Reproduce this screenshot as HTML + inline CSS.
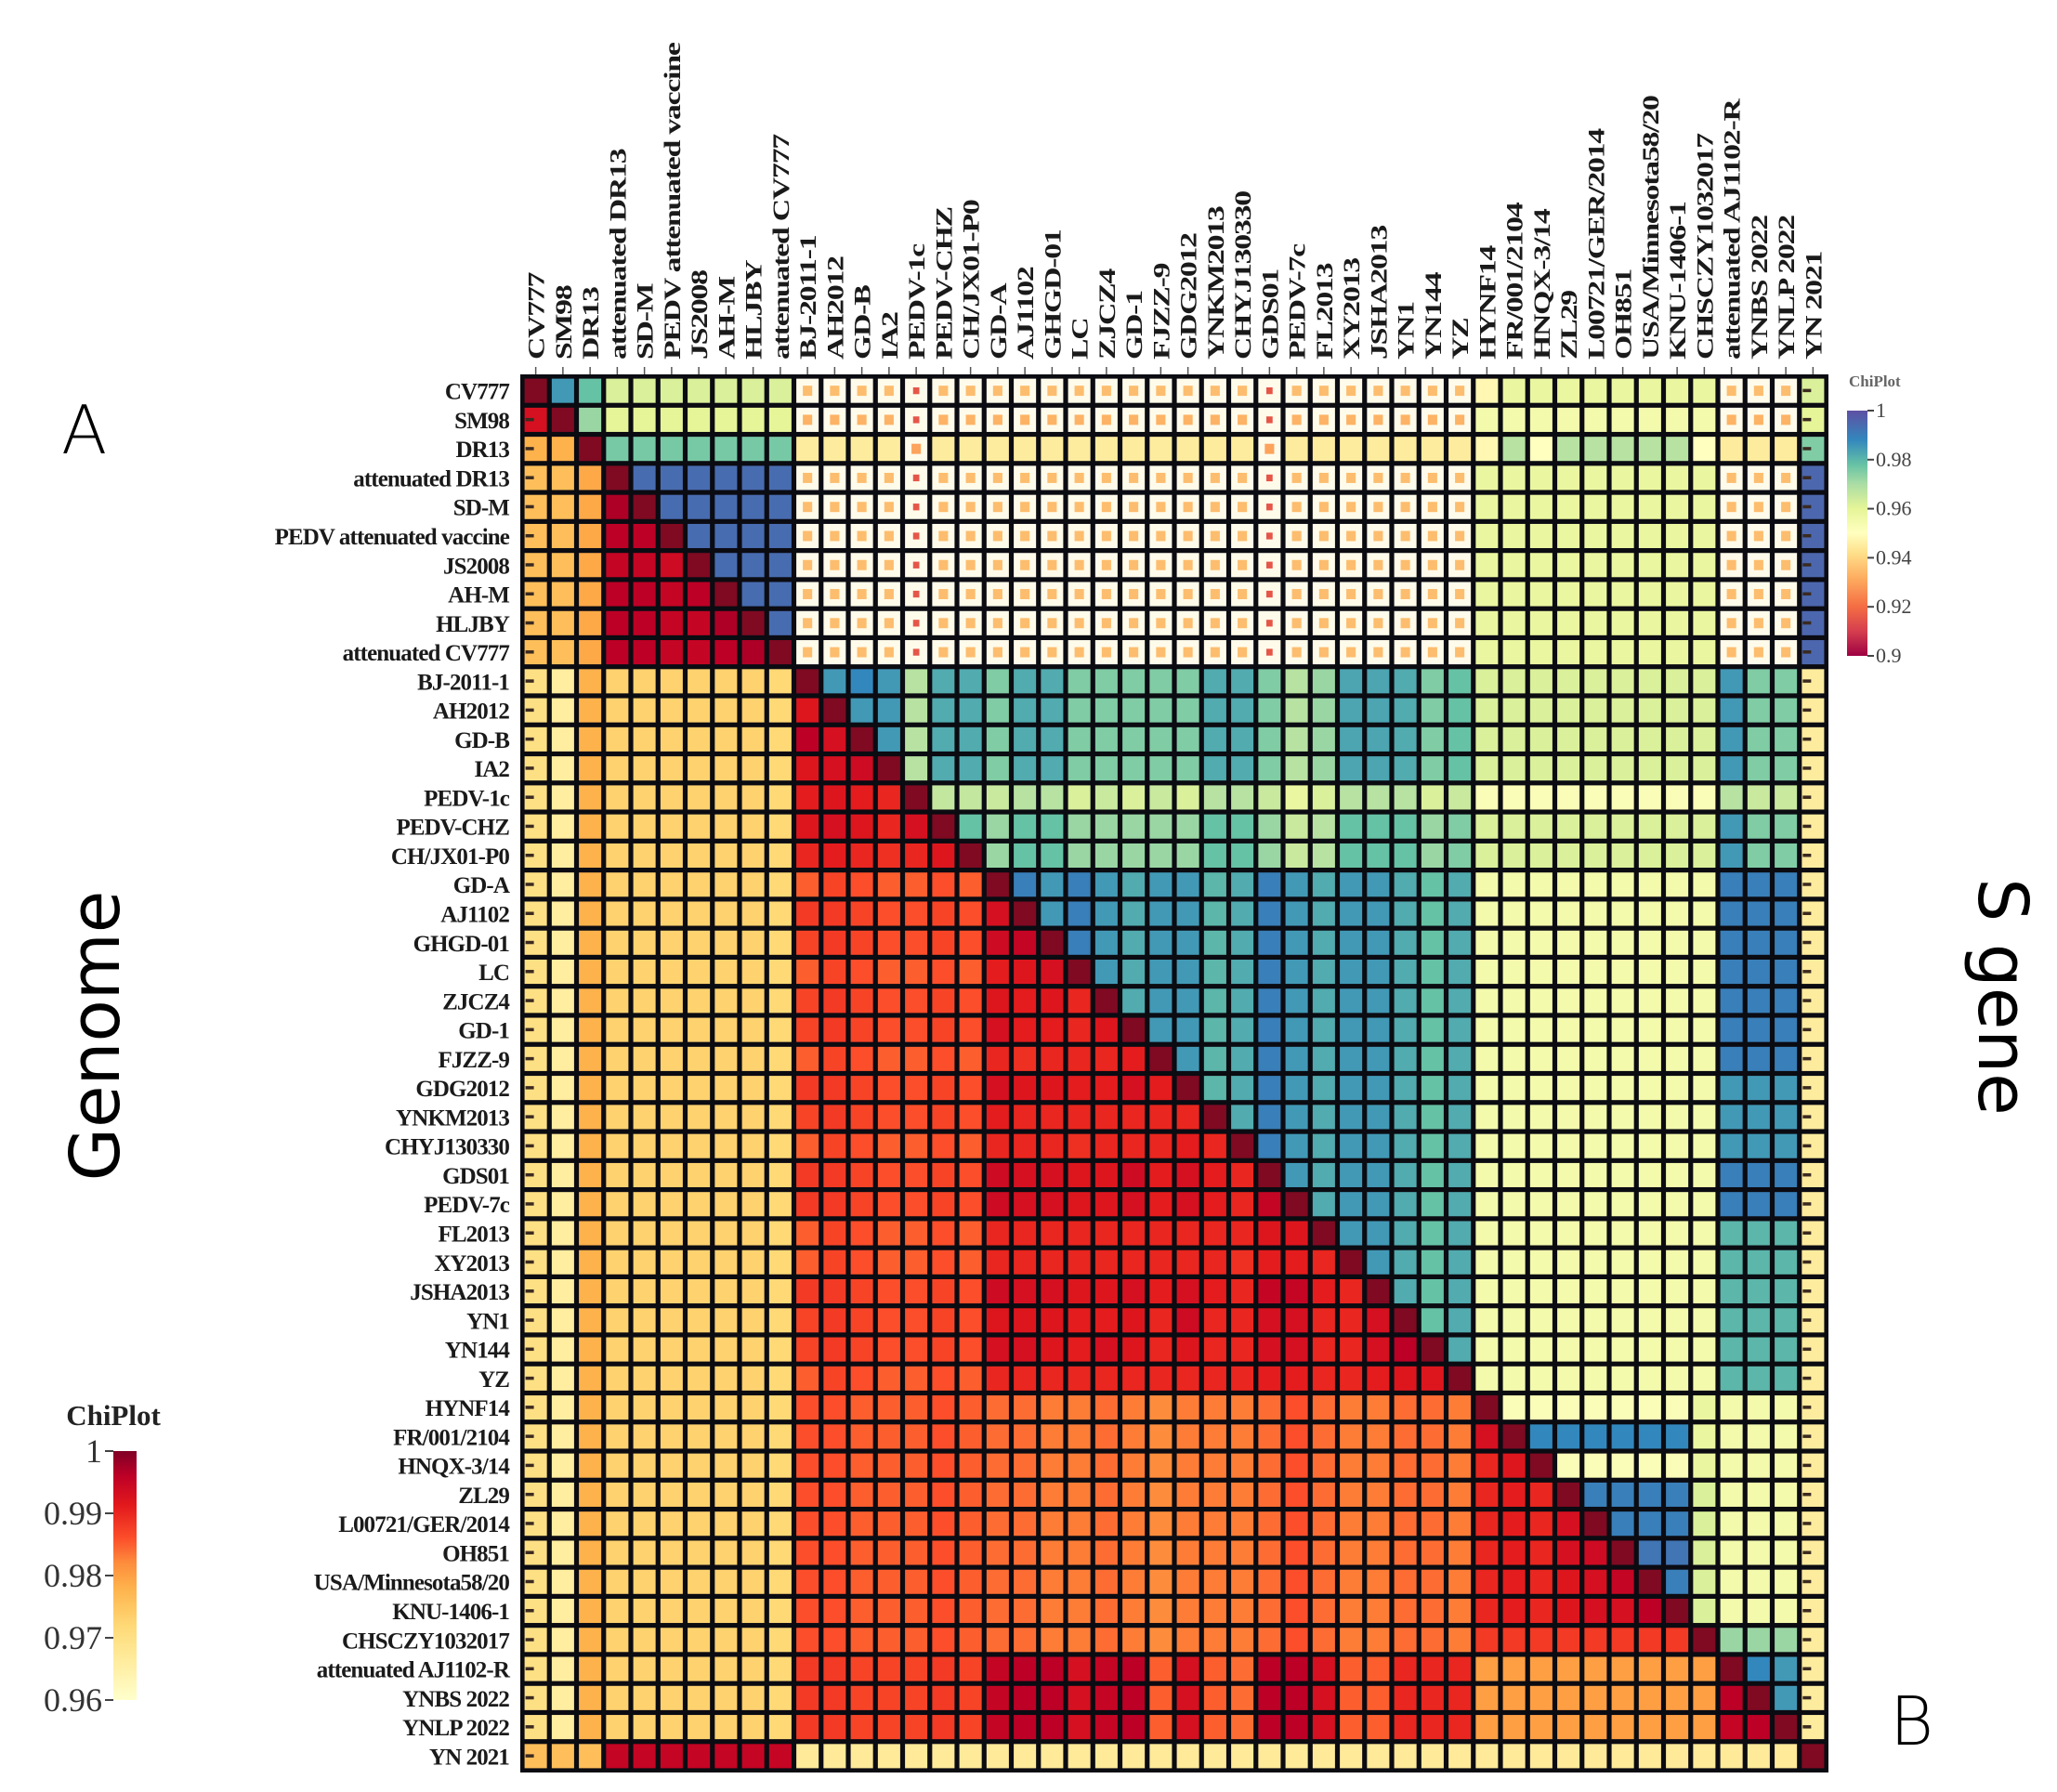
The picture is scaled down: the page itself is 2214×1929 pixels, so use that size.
<!DOCTYPE html>
<html><head><meta charset="utf-8"><title>Genome / S gene identity heatmap</title>
<style>
html,body{margin:0;padding:0;background:#fff;}
#wrap{position:relative;width:2214px;height:1929px;overflow:hidden;background:#fff;}
svg text{font-family:"Liberation Serif",serif;}
</style></head>
<body>
<div id="wrap">
<svg id="chart" width="2214" height="1929" viewBox="0 0 2214 1929">
<defs>
<linearGradient id="gGen" x1="0" y1="1" x2="0" y2="0">
<stop offset="0" stop-color="#ffffcc"/><stop offset="0.15" stop-color="#ffeda0"/><stop offset="0.3" stop-color="#fed976"/><stop offset="0.45" stop-color="#feb24c"/><stop offset="0.55" stop-color="#fd8d3c"/><stop offset="0.65" stop-color="#fc4e2a"/><stop offset="0.78" stop-color="#e31a1c"/><stop offset="0.9" stop-color="#bd0026"/><stop offset="1" stop-color="#800026"/>
</linearGradient>
<linearGradient id="gS" x1="0" y1="1" x2="0" y2="0">
<stop offset="0" stop-color="#9e0142"/><stop offset="0.1" stop-color="#d53e4f"/><stop offset="0.2" stop-color="#f46d43"/><stop offset="0.32" stop-color="#fdae61"/><stop offset="0.42" stop-color="#fee08b"/><stop offset="0.5" stop-color="#ffffbf"/><stop offset="0.6" stop-color="#e6f598"/><stop offset="0.7" stop-color="#abdda4"/><stop offset="0.78" stop-color="#66c2a5"/><stop offset="0.88" stop-color="#3288bd"/><stop offset="1" stop-color="#5e4fa2"/>
</linearGradient>
</defs>
<g id="cells"></g>
<g id="rowlabels"></g>
<g id="collabels"></g>
<text x="66" y="488" font-size="72" style="font-family:'DejaVu Sans',sans-serif;font-weight:300">A</text>
<text x="2034" y="1878" font-size="72" style="font-family:'DejaVu Sans',sans-serif;font-weight:300">B</text>
<text transform="translate(128,1115) rotate(-90)" text-anchor="middle" font-size="74" style="font-family:'DejaVu Sans',sans-serif">Genome</text>
<text transform="translate(2130,1073) rotate(90)" text-anchor="middle" font-size="74" style="font-family:'DejaVu Sans',sans-serif">S gene</text>
<g id="legendS">
<text x="1990" y="416" font-size="17" font-weight="bold" fill="#666">ChiPlot</text>
<rect x="1988" y="442" width="22" height="264" fill="url(#gS)"/>
</g>
<g id="legendG">
<text x="122" y="1534" font-size="31" font-weight="bold" text-anchor="middle" fill="#222">ChiPlot</text>
<rect x="122" y="1562" width="25" height="268" fill="url(#gGen)"/>
</g>
</svg>
</div>
<script>
const strains = ["CV777","SM98","DR13","attenuated DR13","SD-M","PEDV attenuated vaccine","JS2008","AH-M","HLJBY","attenuated CV777","BJ-2011-1","AH2012","GD-B","IA2","PEDV-1c","PEDV-CHZ","CH/JX01-P0","GD-A","AJ1102","GHGD-01","LC","ZJCZ4","GD-1","FJZZ-9","GDG2012","YNKM2013","CHYJ130330","GDS01","PEDV-7c","FL2013","XY2013","JSHA2013","YN1","YN144","YZ","HYNF14","FR/001/2104","HNQX-3/14","ZL29","L00721/GER/2014","OH851","USA/Minnesota58/20","KNU-1406-1","CHSCZY1032017","attenuated AJ1102-R","YNBS 2022","YNLP 2022","YN 2021"];
const sGeneTicks = [0.9,0.92,0.94,0.96,0.98,1];
const sGeneTickLabels = ["0.9","0.92","0.94","0.96","0.98","1"];
const genomeTicks = [0.96,0.97,0.98,0.99,1];
const genomeTickLabels = ["0.96","0.97","0.98","0.99","1"];
// lower triangle = whole-genome identity, upper triangle = S gene identity
const identity = [
[1,.985,.978,.962,.962,.962,.962,.962,.962,.962,.935,.935,.935,.935,.915,.935,.935,.935,.935,.935,.935,.935,.935,.935,.935,.935,.935,.915,.935,.935,.935,.935,.935,.935,.935,.948,.958,.958,.958,.958,.958,.958,.958,.958,.935,.935,.935,.962],
[.993,1,.972,.960,.960,.960,.960,.960,.960,.960,.933,.933,.933,.933,.915,.933,.933,.933,.933,.933,.933,.933,.933,.933,.933,.933,.933,.915,.933,.933,.933,.933,.933,.933,.933,.955,.955,.955,.955,.955,.955,.955,.955,.955,.933,.933,.933,.960],
[.978,.978,1,.976,.976,.976,.976,.976,.976,.976,.945,.945,.945,.945,.930,.945,.945,.945,.945,.945,.945,.945,.945,.945,.945,.945,.945,.930,.945,.945,.945,.945,.945,.945,.945,.948,.968,.950,.968,.968,.968,.968,.968,.950,.945,.945,.945,.975],
[.976,.976,.979,1,.994,.994,.994,.994,.994,.994,.935,.935,.935,.935,.915,.935,.935,.935,.935,.935,.935,.935,.935,.935,.935,.935,.935,.915,.935,.935,.935,.935,.935,.935,.935,.958,.958,.958,.958,.958,.958,.958,.958,.958,.935,.935,.935,.995],
[.976,.976,.979,.997,1,.994,.994,.994,.994,.994,.935,.935,.935,.935,.915,.935,.935,.935,.935,.935,.935,.935,.935,.935,.935,.935,.935,.915,.935,.935,.935,.935,.935,.935,.935,.958,.958,.958,.958,.958,.958,.958,.958,.958,.935,.935,.935,.995],
[.976,.976,.979,.996,.996,1,.994,.994,.994,.994,.935,.935,.935,.935,.915,.935,.935,.935,.935,.935,.935,.935,.935,.935,.935,.935,.935,.915,.935,.935,.935,.935,.935,.935,.935,.958,.958,.958,.958,.958,.958,.958,.958,.958,.935,.935,.935,.995],
[.976,.976,.979,.995,.995,.994,1,.994,.994,.994,.935,.935,.935,.935,.915,.935,.935,.935,.935,.935,.935,.935,.935,.935,.935,.935,.935,.915,.935,.935,.935,.935,.935,.935,.935,.958,.958,.958,.958,.958,.958,.958,.958,.958,.935,.935,.935,.995],
[.976,.976,.979,.996,.996,.995,.996,1,.994,.994,.935,.935,.935,.935,.915,.935,.935,.935,.935,.935,.935,.935,.935,.935,.935,.935,.935,.915,.935,.935,.935,.935,.935,.935,.935,.958,.958,.958,.958,.958,.958,.958,.958,.958,.935,.935,.935,.995],
[.976,.976,.979,.996,.996,.995,.995,.997,1,.994,.935,.935,.935,.935,.915,.935,.935,.935,.935,.935,.935,.935,.935,.935,.935,.935,.935,.915,.935,.935,.935,.935,.935,.935,.935,.958,.958,.958,.958,.958,.958,.958,.958,.958,.935,.935,.935,.995],
[.976,.976,.979,.996,.996,.995,.995,.996,.997,1,.935,.935,.935,.935,.915,.935,.935,.935,.935,.935,.935,.935,.935,.935,.935,.935,.935,.915,.935,.935,.935,.935,.935,.935,.935,.958,.958,.958,.958,.958,.958,.958,.958,.958,.935,.935,.935,.995],
[.970,.966,.978,.973,.973,.973,.973,.973,.973,.972,1,.985,.988,.985,.968,.982,.982,.975,.982,.982,.975,.975,.975,.975,.975,.982,.982,.975,.968,.972,.983,.983,.982,.975,.978,.962,.962,.962,.962,.962,.962,.962,.962,.962,.985,.975,.975,.945],
[.970,.966,.978,.973,.973,.973,.973,.973,.973,.972,.992,1,.985,.985,.968,.982,.982,.975,.982,.982,.975,.975,.975,.975,.975,.982,.982,.975,.968,.972,.983,.983,.982,.975,.978,.962,.962,.962,.962,.962,.962,.962,.962,.962,.985,.975,.975,.945],
[.970,.966,.978,.973,.973,.973,.973,.973,.973,.972,.996,.993,1,.985,.968,.982,.982,.975,.982,.982,.975,.975,.975,.975,.975,.982,.982,.975,.968,.972,.983,.983,.982,.975,.978,.962,.962,.962,.962,.962,.962,.962,.962,.962,.985,.975,.975,.945],
[.970,.966,.978,.973,.973,.973,.973,.973,.973,.972,.992,.993,.994,1,.968,.982,.982,.975,.982,.982,.975,.975,.975,.975,.975,.982,.982,.975,.968,.972,.983,.983,.982,.975,.978,.962,.962,.962,.962,.962,.962,.962,.962,.962,.985,.975,.975,.945],
[.970,.966,.978,.973,.973,.973,.973,.973,.973,.972,.991,.992,.991,.990,1,.966,.966,.965,.968,.968,.962,.965,.962,.965,.962,.968,.968,.965,.958,.962,.968,.968,.968,.962,.965,.952,.952,.952,.952,.952,.952,.952,.952,.952,.968,.965,.965,.945],
[.970,.966,.978,.973,.973,.973,.973,.973,.973,.972,.992,.993,.992,.990,.993,1,.978,.972,.978,.978,.972,.972,.972,.972,.972,.978,.978,.972,.965,.968,.978,.978,.978,.972,.975,.962,.962,.962,.962,.962,.962,.962,.962,.962,.985,.975,.975,.945],
[.970,.966,.978,.973,.973,.973,.973,.973,.973,.972,.990,.991,.990,.989,.990,.992,1,.972,.978,.978,.972,.972,.972,.972,.972,.978,.978,.972,.965,.968,.978,.978,.978,.972,.975,.962,.962,.962,.962,.962,.962,.962,.962,.962,.985,.975,.975,.945],
[.970,.966,.978,.973,.973,.973,.973,.973,.973,.972,.985,.987,.986,.985,.985,.986,.985,1,.990,.985,.990,.985,.982,.985,.985,.980,.982,.990,.985,.982,.985,.985,.982,.978,.982,.955,.955,.955,.955,.955,.955,.955,.955,.955,.990,.990,.990,.945],
[.970,.966,.978,.973,.973,.973,.973,.973,.973,.972,.988,.988,.987,.986,.986,.987,.986,.993,1,.985,.990,.985,.982,.985,.985,.980,.982,.990,.985,.982,.985,.985,.982,.978,.982,.955,.955,.955,.955,.955,.955,.955,.955,.955,.990,.990,.990,.945],
[.970,.966,.978,.973,.973,.973,.973,.973,.973,.972,.987,.988,.987,.986,.986,.987,.986,.994,.995,1,.990,.985,.982,.985,.985,.980,.982,.990,.985,.982,.985,.985,.982,.978,.982,.955,.955,.955,.955,.955,.955,.955,.955,.955,.990,.990,.990,.945],
[.970,.966,.978,.973,.973,.973,.973,.973,.973,.972,.985,.987,.986,.985,.985,.986,.985,.991,.992,.993,1,.985,.982,.985,.985,.980,.982,.990,.985,.982,.985,.985,.982,.978,.982,.955,.955,.955,.955,.955,.955,.955,.955,.955,.990,.990,.990,.945],
[.970,.966,.978,.973,.973,.973,.973,.973,.973,.972,.987,.988,.987,.986,.986,.987,.986,.992,.991,.992,.990,1,.982,.985,.985,.980,.982,.990,.985,.982,.985,.985,.982,.978,.982,.955,.955,.955,.955,.955,.955,.955,.955,.955,.990,.990,.990,.945],
[.970,.966,.978,.973,.973,.973,.973,.973,.973,.972,.987,.988,.987,.986,.986,.987,.986,.993,.991,.991,.990,.992,1,.985,.985,.980,.982,.990,.985,.982,.985,.985,.982,.978,.982,.955,.955,.955,.955,.955,.955,.955,.955,.955,.990,.990,.990,.945],
[.970,.966,.978,.973,.973,.973,.973,.973,.973,.972,.985,.987,.986,.985,.985,.986,.985,.990,.989,.990,.990,.990,.991,1,.985,.980,.982,.990,.985,.982,.985,.985,.982,.978,.982,.955,.955,.955,.955,.955,.955,.955,.955,.955,.990,.990,.990,.945],
[.970,.966,.978,.973,.973,.973,.973,.973,.973,.972,.988,.988,.987,.986,.986,.987,.986,.993,.992,.992,.991,.991,.993,.991,1,.980,.982,.990,.985,.982,.985,.985,.982,.978,.982,.955,.955,.955,.955,.955,.955,.955,.955,.955,.985,.985,.985,.945],
[.970,.966,.978,.973,.973,.973,.973,.973,.973,.972,.987,.988,.987,.986,.986,.987,.986,.991,.990,.990,.990,.990,.990,.990,.990,1,.982,.990,.985,.982,.985,.985,.982,.978,.982,.955,.955,.955,.955,.955,.955,.955,.955,.955,.985,.985,.985,.945],
[.970,.966,.978,.973,.973,.973,.973,.973,.973,.972,.985,.987,.986,.985,.985,.986,.985,.990,.990,.990,.989,.990,.990,.990,.991,.990,1,.990,.985,.982,.985,.985,.982,.978,.982,.955,.955,.955,.955,.955,.955,.955,.955,.955,.985,.985,.985,.945],
[.970,.966,.978,.973,.973,.973,.973,.973,.973,.972,.988,.988,.987,.986,.986,.987,.986,.994,.993,.993,.992,.992,.994,.991,.993,.991,.990,1,.985,.982,.985,.985,.982,.978,.982,.955,.955,.955,.955,.955,.955,.955,.955,.955,.990,.990,.990,.945],
[.970,.966,.978,.973,.973,.973,.973,.973,.973,.972,.988,.988,.987,.986,.986,.987,.986,.994,.993,.993,.992,.992,.993,.991,.993,.991,.990,.995,1,.982,.985,.985,.982,.978,.982,.955,.955,.955,.955,.955,.955,.955,.955,.955,.990,.990,.990,.945],
[.970,.966,.978,.973,.973,.973,.973,.973,.973,.972,.985,.987,.986,.985,.985,.986,.985,.990,.990,.990,.990,.990,.990,.990,.990,.990,.990,.992,.992,1,.985,.985,.982,.978,.982,.955,.955,.955,.955,.955,.955,.955,.955,.955,.980,.980,.980,.945],
[.970,.966,.978,.973,.973,.973,.973,.973,.973,.972,.985,.987,.986,.985,.985,.986,.985,.990,.990,.990,.990,.990,.990,.990,.990,.990,.989,.991,.991,.990,1,.985,.982,.978,.982,.955,.955,.955,.955,.955,.955,.955,.955,.955,.980,.980,.980,.945],
[.970,.966,.978,.973,.973,.973,.973,.973,.973,.972,.988,.988,.987,.986,.986,.987,.986,.994,.993,.993,.992,.992,.993,.991,.993,.991,.990,.995,.995,.991,.990,1,.982,.978,.982,.955,.955,.955,.955,.955,.955,.955,.955,.955,.980,.980,.980,.945],
[.970,.966,.978,.973,.973,.973,.973,.973,.973,.972,.987,.988,.987,.986,.986,.987,.986,.992,.992,.992,.991,.991,.992,.990,.994,.990,.990,.993,.993,.990,.990,.993,1,.978,.982,.955,.955,.955,.955,.955,.955,.955,.955,.955,.980,.980,.980,.945],
[.970,.966,.978,.973,.973,.973,.973,.973,.973,.972,.987,.988,.987,.986,.986,.987,.986,.993,.993,.992,.991,.993,.992,.990,.992,.990,.990,.993,.993,.990,.990,.993,.996,1,.982,.955,.955,.955,.955,.955,.955,.955,.955,.955,.980,.980,.980,.945],
[.970,.966,.978,.973,.973,.973,.973,.973,.973,.972,.985,.987,.986,.985,.985,.986,.985,.990,.990,.990,.990,.990,.990,.990,.990,.990,.990,.991,.991,.990,.990,.991,.992,.992,1,.955,.955,.955,.955,.955,.955,.955,.955,.955,.980,.980,.980,.945],
[.970,.966,.978,.973,.973,.973,.973,.973,.973,.972,.986,.986,.985,.985,.985,.986,.985,.984,.984,.983,.983,.984,.983,.982,.983,.983,.983,.984,.986,.984,.983,.983,.984,.984,.983,1,.952,.952,.952,.952,.952,.952,.952,.958,.955,.955,.955,.945],
[.970,.966,.978,.973,.973,.973,.973,.973,.973,.972,.986,.986,.985,.985,.985,.986,.985,.984,.984,.983,.983,.984,.983,.982,.983,.983,.983,.984,.986,.984,.983,.983,.984,.984,.983,.993,1,.988,.988,.988,.988,.988,.988,.958,.955,.955,.955,.945],
[.970,.966,.978,.973,.973,.973,.973,.973,.973,.972,.986,.986,.985,.985,.985,.986,.985,.984,.984,.983,.983,.984,.983,.982,.983,.983,.983,.984,.986,.984,.983,.983,.984,.984,.983,.990,.992,1,.952,.952,.952,.952,.952,.958,.955,.955,.955,.945],
[.970,.966,.978,.973,.973,.973,.973,.973,.973,.972,.986,.986,.985,.985,.985,.986,.985,.984,.984,.983,.983,.984,.983,.982,.983,.983,.983,.984,.986,.984,.983,.983,.984,.984,.983,.990,.991,.990,1,.990,.990,.990,.990,.962,.955,.955,.955,.945],
[.970,.966,.978,.973,.973,.973,.973,.973,.973,.972,.986,.986,.985,.985,.985,.986,.985,.984,.984,.983,.983,.984,.983,.982,.983,.983,.983,.984,.986,.984,.983,.983,.984,.984,.983,.990,.991,.990,.993,1,.990,.990,.990,.962,.955,.955,.955,.945],
[.970,.966,.978,.973,.973,.973,.973,.973,.973,.972,.986,.986,.985,.985,.985,.986,.985,.984,.984,.983,.983,.984,.983,.982,.983,.983,.983,.984,.986,.984,.983,.983,.984,.984,.983,.990,.991,.990,.993,.994,1,.992,.992,.962,.955,.955,.955,.945],
[.970,.966,.978,.973,.973,.973,.973,.973,.973,.972,.986,.986,.985,.985,.985,.986,.985,.984,.984,.983,.983,.984,.983,.982,.983,.983,.983,.984,.986,.984,.983,.983,.984,.984,.983,.990,.991,.990,.992,.993,.995,1,.990,.962,.955,.955,.955,.945],
[.970,.966,.978,.973,.973,.973,.973,.973,.973,.972,.986,.986,.985,.985,.985,.986,.985,.984,.984,.983,.983,.984,.983,.982,.983,.983,.983,.984,.986,.984,.983,.983,.984,.984,.983,.990,.991,.990,.992,.993,.993,.996,1,.962,.955,.955,.955,.945],
[.970,.966,.978,.973,.973,.973,.973,.973,.973,.972,.986,.986,.985,.985,.985,.986,.985,.984,.984,.983,.983,.984,.983,.982,.983,.983,.983,.984,.986,.984,.983,.983,.984,.984,.983,.988,.988,.988,.988,.988,.988,.988,.988,1,.972,.972,.972,.945],
[.970,.966,.978,.973,.973,.973,.973,.973,.973,.972,.988,.988,.987,.987,.987,.988,.987,.995,.996,.996,.993,.995,.996,.985,.993,.985,.984,.996,.996,.993,.985,.985,.990,.990,.990,.980,.980,.980,.980,.980,.980,.980,.980,.980,1,.988,.985,.945],
[.970,.966,.978,.973,.973,.973,.973,.973,.973,.972,.988,.988,.987,.987,.987,.988,.987,.995,.996,.996,.993,.995,.996,.985,.993,.985,.984,.996,.996,.993,.985,.985,.990,.990,.990,.980,.980,.980,.980,.980,.980,.980,.980,.980,.996,1,.985,.945],
[.970,.966,.978,.973,.973,.973,.973,.973,.973,.972,.988,.988,.987,.987,.987,.988,.987,.995,.996,.996,.993,.995,.996,.985,.993,.985,.984,.996,.996,.993,.985,.985,.990,.990,.990,.980,.980,.980,.980,.980,.980,.980,.980,.980,.995,.996,1,.945],
[.976,.976,.976,.995,.995,.995,.995,.995,.995,.995,.967,.967,.967,.967,.967,.967,.967,.967,.967,.967,.967,.967,.967,.967,.967,.967,.967,.967,.967,.967,.967,.967,.967,.967,.967,.967,.967,.967,.967,.967,.967,.967,.967,.967,.967,.967,.967,1]
];

const NS = "http://www.w3.org/2000/svg";
const GX = 562, GY = 405, GW = 1404, GH = 1501;
const N = strains.length;
const cw = GW / N, ch = GH / N;
function xPos(j){ return GX + j * cw; }
function yPos(i){ return GY + i * ch; }

const genStops = [[0,"#ffffcc"],[0.15,"#ffeda0"],[0.3,"#fed976"],[0.45,"#feb24c"],[0.55,"#fd8d3c"],[0.65,"#fc4e2a"],[0.78,"#e31a1c"],[0.9,"#bd0026"],[1,"#800026"]];
const sStops = [[0,"#9e0142"],[0.1,"#d53e4f"],[0.2,"#f46d43"],[0.32,"#fdae61"],[0.42,"#fee08b"],[0.5,"#ffffbf"],[0.6,"#e6f598"],[0.7,"#abdda4"],[0.78,"#66c2a5"],[0.88,"#3288bd"],[1,"#5e4fa2"]];
function hex(c){ return [parseInt(c.slice(1,3),16),parseInt(c.slice(3,5),16),parseInt(c.slice(5,7),16)]; }
function ramp(stops,t){
  t = Math.max(0, Math.min(1, t));
  for (let k = 1; k < stops.length; k++){
    if (t <= stops[k][0]){
      const a = stops[k-1], b = stops[k];
      const f = (t - a[0]) / (b[0] - a[0]);
      const ca = hex(a[1]), cb = hex(b[1]);
      return "rgb(" + ca.map((v,q)=>Math.round(v + (cb[q]-v)*f)).join(",") + ")";
    }
  }
  return stops[stops.length-1][1];
}
function genColor(v){ return ramp(genStops, (v - 0.96) / 0.04); }
function sColor(v){ return ramp(sStops, (v - 0.9) / 0.1); }
function mk(tag, attrs){ const e = document.createElementNS(NS, tag); for (const k in attrs) e.setAttribute(k, attrs[k]); return e; }

const cells = document.getElementById("cells");
const bg = mk("rect",{x:GX-2,y:GY-2,width:GW+4,height:GH+4,fill:"#0b0b12"});


cells.appendChild(bg);

const pad = 2.6;
for (let i = 0; i < N; i++){
  for (let j = 0; j < N; j++){
    const v = identity[i][j];
    const x = xPos(j) + pad, y = yPos(i) + pad, w = cw - 2*pad, h = ch - 2*pad;
    let fill;
    if (i === j) fill = "#7f0a22";
    else if (j < i) fill = genColor(v);
    else fill = sColor(v);
    const upperLow = (j > i && v < 0.94);
    const r = mk("rect",{x:x,y:y,width:w,height:h,fill: upperLow ? "#fffbea" : fill});
    
    
    cells.appendChild(r);
    if (upperLow){
      const s = v < 0.92 ? 0.28 : 0.42;
      const m = mk("rect",{x:x + w*(1-s)/2, y:y + h*(1-s)/2, width:w*s, height:h*s, fill: fill});
      
      
      cells.appendChild(m);
    }
    if ((j === 0 && i > 0) || (j === N-1 && i < N-1)){
      const d = mk("rect",{x:x+1, y:y + h/2 - 2, width:9, height:3.5, fill:"#3a2a20"});
      
      
      cells.appendChild(d);
    }
  }
}

const rl = document.getElementById("rowlabels");
const cl = document.getElementById("collabels");
for (let i = 0; i < N; i++){
  const t = mk("text",{x:GX-14, y:yPos(i) + ch/2 + 9, "text-anchor":"end", "font-size":25, "font-weight":"bold", "letter-spacing":"-0.9", fill:"#1a1a1a"});
  t.textContent = strains[i];
  
  
  rl.appendChild(t);
  const cx = xPos(i) + cw/2;
  const c = mk("text",{transform:"translate(" + (cx + 9) + "," + (GY - 18) + ") rotate(-90) scale(1.35,1)", "text-anchor":"start", "font-size":25, "font-weight":"bold", "letter-spacing":"-0.9", fill:"#1a1a1a"});
  c.textContent = strains[i];
  
  
  cl.appendChild(c);
  const tk = mk("line",{x1:cx, y1:GY-10, x2:cx, y2:GY-2, stroke:"#555", "stroke-width":1.5});
  
  
  cl.appendChild(tk);
}

// S gene colorbar ticks
const lS = document.getElementById("legendS");
const sTop = 442, sH = 264;
sGeneTicks.forEach((v,k)=>{
  const y = sTop + sH * (1 - (v - 0.9) / 0.1);
  const ln = mk("line",{x1:2010,y1:y,x2:2017,y2:y,stroke:"#444","stroke-width":2});
  
  
  lS.appendChild(ln);
  const t = mk("text",{x:2019,y:y+7,"font-size":22,fill:"#444"});
  t.textContent = sGeneTickLabels[k];
  
  
  lS.appendChild(t);
});
// Genome colorbar ticks
const lG = document.getElementById("legendG");
const gTop = 1562, gH = 268;
genomeTicks.forEach((v,k)=>{
  const y = gTop + gH * (1 - (v - 0.96) / 0.04);
  const ln = mk("line",{x1:113,y1:y,x2:122,y2:y,stroke:"#444","stroke-width":2});
  
  
  lG.appendChild(ln);
  const t = mk("text",{x:110,y:y+12,"font-size":36,"text-anchor":"end",fill:"#333"});
  t.textContent = genomeTickLabels[k];
  
  
  lG.appendChild(t);
});
</script>
</body></html>
